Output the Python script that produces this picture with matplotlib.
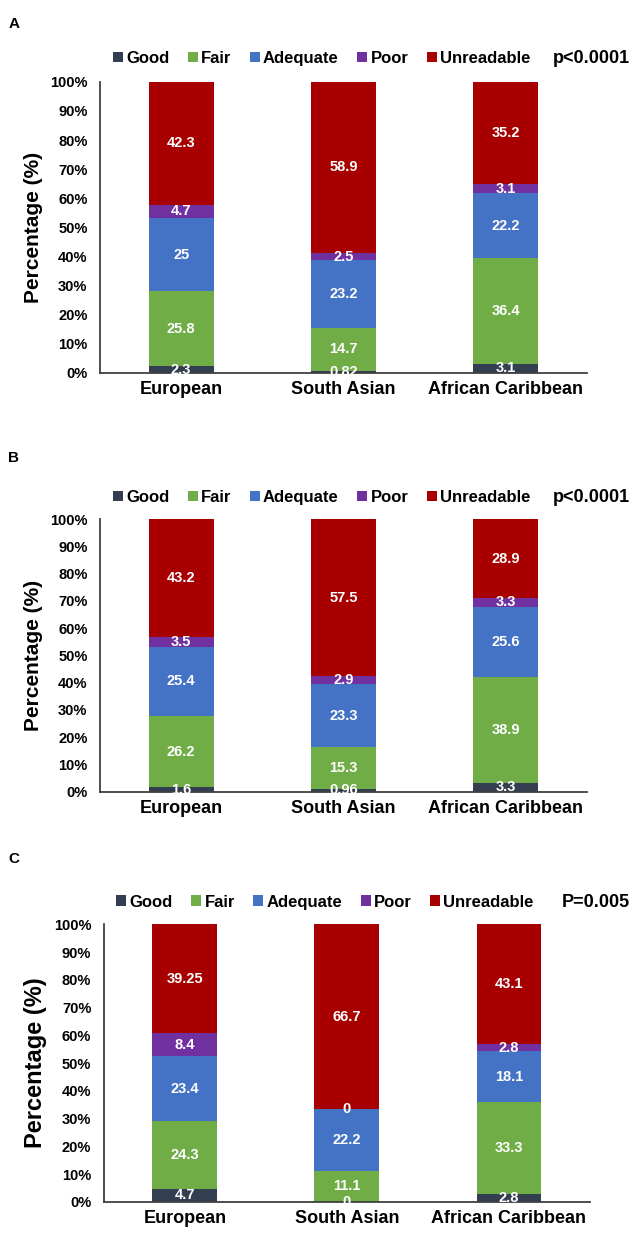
import matplotlib.pyplot as plt
import numpy as np

plt.rcParams['font.family'] = ['Liberation Sans', 'DejaVu Sans']
plt.rcParams['font.weight'] = 'bold'

groups = ["European", "South Asian", "African Caribbean"]
categories = ["Good", "Fair", "Adequate", "Poor", "Unreadable"]
colors = ["#333F50", "#70AD47", "#4472C4", "#7030A0", "#A80000"]

# panel A
a_good = [2.3, 0.82, 3.1]
a_fair = [25.8, 14.7, 36.4]
a_adequate = [25, 23.2, 22.2]
a_poor = [4.7, 2.5, 3.1]
a_unreadable = [42.3, 58.9, 35.2]

# panel B
b_good = [1.6, 0.96, 3.3]
b_fair = [26.2, 15.3, 38.9]
b_adequate = [25.4, 23.3, 25.6]
b_poor = [3.5, 2.9, 3.3]
b_unreadable = [43.2, 57.5, 28.9]

# panel C
c_good = [4.7, 0, 2.8]
c_fair = [24.3, 11.1, 33.3]
c_adequate = [23.4, 22.2, 18.1]
c_poor = [8.4, 0, 2.8]
c_unreadable = [39.25, 66.7, 43.1]

panels = [
    ("A", [a_good, a_fair, a_adequate, a_poor, a_unreadable], "p<0.0001"),
    ("B", [b_good, b_fair, b_adequate, b_poor, b_unreadable], "p<0.0001"),
    ("C", [c_good, c_fair, c_adequate, c_poor, c_unreadable], "P=0.005"),
]

# axes rectangles in figure fractions: left, bottom, width, height
rects = [
    [0.158, 0.699, 0.769, 0.235],
    [0.158, 0.361, 0.769, 0.220],
    [0.164, 0.030, 0.768, 0.224],
]
letter_y = [0.981, 0.630, 0.307]
ylabel_size = [15, 15, 17]

fig = plt.figure(figsize=(6.33, 12.39), dpi=100)
x = np.arange(len(groups))

for (letter, series, pval), rect, ly, yls in zip(panels, rects, letter_y, ylabel_size):
    ax = fig.add_axes(rect)
    bottom = np.zeros(len(groups))
    for name, vals, col in zip(categories, series, colors):
        vals = np.array(vals, dtype=float)
        ax.bar(x, vals, 0.4, bottom=bottom, color=col, label=name, zorder=2)
        for xi, v, b in zip(x, vals, bottom):
            ax.text(xi, b + v / 2, f"{v:g}", ha="center", va="center",
                    color="white", fontsize=10.5, fontweight="bold", zorder=3)
        bottom += vals
    ax.set_xlim(-0.5, 2.5)
    ax.set_ylim(0, 100)
    ax.set_yticks(np.arange(0, 101, 10))
    ax.set_yticklabels([f"{t}%" for t in range(0, 101, 10)], fontsize=10.5, fontweight="bold")
    ax.set_xticks(x)
    ax.set_xticklabels(groups, fontsize=13, fontweight="bold")
    ax.tick_params(axis="both", length=0, pad=6)
    ax.tick_params(axis="y", pad=9)
    for s in ["top", "right"]:
        ax.spines[s].set_visible(False)
    for s in ["left", "bottom"]:
        ax.spines[s].set_color("#404040")
        ax.spines[s].set_linewidth(1.3)
    ax.set_ylabel("Percentage (%)", fontsize=yls, fontweight="bold", labelpad=5)
    leg = ax.legend(loc="center", bbox_to_anchor=(0.455, 1.08), ncol=5, frameon=False,
                    fontsize=12, handlelength=0.6, handleheight=0.6,
                    handletextpad=0.2, columnspacing=1.1, borderaxespad=0)
    for t in leg.get_texts():
        t.set_fontweight("bold")
    bb = ax.get_position()
    fig.text(0.995, bb.y1 + bb.height * 0.08, pval,
             ha="right", va="center", fontsize=13, fontweight="bold")
    fig.text(0.022, ly, letter, ha="center", va="center", fontsize=11, fontweight="bold")

plt.savefig("out.png", dpi=100)
plt.close()
